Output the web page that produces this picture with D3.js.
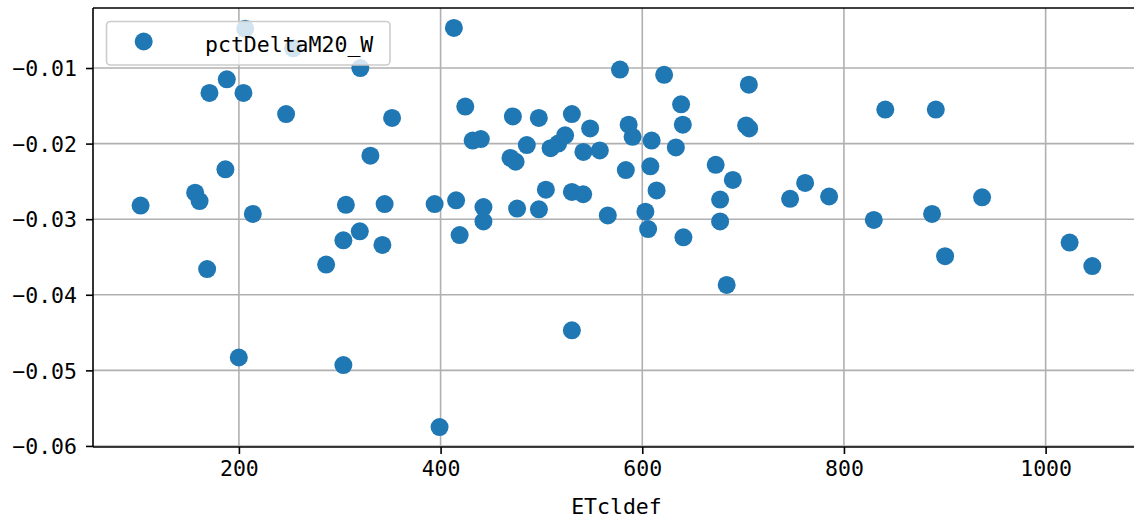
<!DOCTYPE html>
<html>
<head>
<meta charset="utf-8">
<script src="https://cdn.jsdelivr.net/npm/d3@7/dist/d3.min.js"></script>
<style>
  html, body { margin: 0; padding: 0; background: #ffffff; }
  svg { display: block; }
  text { font-family: "DejaVu Sans Mono", "Liberation Mono", monospace; font-size: 21.5px; fill: #000; }
</style>
</head>
<body>
<svg id="chart" width="1134" height="520"></svg>
<script>
// ---- data ----
const seriesName = "pctDeltaM20_W";
const xLabel = "ETcldef";
const etcldef = [
  102.5, 156.6, 161.0, 168.5, 170.8, 186.6, 188.0, 199.9, 204.5, 206.2,
  213.8, 246.8, 253.8, 286.5, 303.6, 303.6, 306.1, 319.9, 320.4, 330.4,
  342.3, 344.5, 351.9, 394.1, 399.0, 413.2, 415.4, 418.9, 424.5, 431.8,
  439.9, 442.5, 442.5, 469.3, 474.4, 471.7, 475.9, 485.5, 497.4, 497.5,
  504.4, 509.1, 516.6, 523.5, 530.2, 530.2, 530.2, 541.4, 541.6, 548.3,
  557.9, 565.8, 577.9, 583.7, 586.5, 590.4, 603.1, 605.8, 608.0, 609.3,
  614.2, 621.7, 633.3, 638.5, 640.2, 640.8, 672.8, 677.2, 677.2, 683.7,
  689.8, 703.0, 706.0, 705.7, 746.6, 761.5, 785.3, 829.6, 841.0, 887.4,
  891.1, 900.3, 937.0, 1023.8, 1046.3
];
const pctDeltaM20W = [
  -0.0282, -0.0265, -0.0276, -0.0366, -0.0133, -0.0234, -0.0115, -0.0483, -0.0133, -0.0048,
  -0.0293, -0.0161, -0.0074, -0.0360, -0.0328, -0.0493, -0.0281, -0.0316, -0.0100, -0.0216,
  -0.0334, -0.0280, -0.0166, -0.0280, -0.0575, -0.0047, -0.0275, -0.0321, -0.0151, -0.0196,
  -0.0194, -0.0284, -0.0303, -0.0219, -0.0224, -0.0164, -0.0286, -0.0202, -0.0166, -0.0287,
  -0.0261, -0.0206, -0.0200, -0.0189, -0.0161, -0.0264, -0.0447, -0.0267, -0.0211, -0.0180,
  -0.0209, -0.0295, -0.0102, -0.0235, -0.0175, -0.0191, -0.0290, -0.0313, -0.0230, -0.0196,
  -0.0262, -0.0109, -0.0205, -0.0148, -0.0175, -0.0324, -0.0228, -0.0274, -0.0303, -0.0387,
  -0.0248, -0.0176, -0.0180, -0.0122, -0.0273, -0.0252, -0.0270, -0.0301, -0.0155, -0.0293,
  -0.0155, -0.0349, -0.0271, -0.0331, -0.0362
];
const xTicks = [200, 400, 600, 800, 1000];
const yTicks = [-0.06, -0.05, -0.04, -0.03, -0.02, -0.01];

// ---- layout ----
const svg = d3.select("#chart");
const plotL = 93, plotT = 8, plotR = 1139.9, plotB = 447;
const color = "#1f77b4";

function padded(ext, f) {
  const d = ext[1] - ext[0];
  return [ext[0] - d * f, ext[1] + d * f];
}
const x = d3.scaleLinear().domain(padded(d3.extent(etcldef), 0.05)).range([plotL, plotR]);
const y = d3.scaleLinear().domain(padded(d3.extent(pctDeltaM20W), 0.05)).range([plotB, plotT]);

const fmtY = v => d3.format(".2f")(v).replace("-", "\u2212");

// grid
const grid = svg.append("g");
grid.selectAll("line.gx").data(xTicks).enter().append("line")
  .attr("x1", d => x(d)).attr("x2", d => x(d)).attr("y1", plotT).attr("y2", plotB)
  .attr("stroke", "#b0b0b0").attr("stroke-width", 1.6);
grid.selectAll("line.gy").data(yTicks).enter().append("line")
  .attr("x1", plotL).attr("x2", plotR).attr("y1", d => y(d)).attr("y2", d => y(d))
  .attr("stroke", "#b0b0b0").attr("stroke-width", 1.6);

// points
svg.append("g").selectAll("circle").data(etcldef.map((v, i) => [v, pctDeltaM20W[i]]))
  .enter().append("circle")
  .attr("cx", d => x(d[0])).attr("cy", d => y(d[1])).attr("r", 9)
  .attr("fill", color);

// axes via d3
const xAxis = d3.axisBottom(x).tickValues(xTicks).tickSize(7).tickPadding(6).tickFormat(d3.format("d"));
const yAxis = d3.axisLeft(y).tickValues(yTicks).tickSize(7).tickPadding(9).tickFormat(fmtY);

const gx = svg.append("g").attr("transform", `translate(0,${plotB})`).call(xAxis);
const gy = svg.append("g").attr("transform", `translate(${plotL},0)`).call(yAxis);
[gx, gy].forEach(g => {
  g.select(".domain").remove();
  g.selectAll(".tick line").attr("stroke", "#000").attr("stroke-width", 1.6);
  g.selectAll(".tick text").attr("fill", "#000")
    .style("font-family", "'DejaVu Sans Mono', monospace").style("font-size", "21.5px");
});
gx.selectAll(".tick text").attr("dy", "0.74em");
gy.selectAll(".tick text").attr("dy", "0.36em");

// spines (left, bottom, top; right one lies outside the window)
svg.append("line").attr("x1", plotL).attr("x2", plotL).attr("y1", plotT).attr("y2", plotB)
  .attr("stroke", "#000").attr("stroke-width", 1.6);
svg.append("line").attr("x1", plotL).attr("x2", plotR).attr("y1", plotB).attr("y2", plotB)
  .attr("stroke", "#000").attr("stroke-width", 1.6);
svg.append("line").attr("x1", plotL).attr("x2", plotR).attr("y1", plotT).attr("y2", plotT)
  .attr("stroke", "#000").attr("stroke-width", 1.6);

// x label
svg.append("text").attr("x", (plotL + plotR) / 2).attr("y", 514)
  .attr("text-anchor", "middle").text(xLabel);

// legend
const lg = svg.append("g");
lg.append("rect").attr("x", 106.5).attr("y", 21.5).attr("width", 283.5).attr("height", 43.5)
  .attr("rx", 4).attr("ry", 4)
  .attr("fill", "#ffffff").attr("fill-opacity", 0.8)
  .attr("stroke", "#cccccc").attr("stroke-width", 1.6);
lg.append("circle").attr("cx", 143.7).attr("cy", 41.5).attr("r", 9).attr("fill", color);
lg.append("text").attr("x", 205).attr("y", 52).text(seriesName);
</script>
</body>
</html>
